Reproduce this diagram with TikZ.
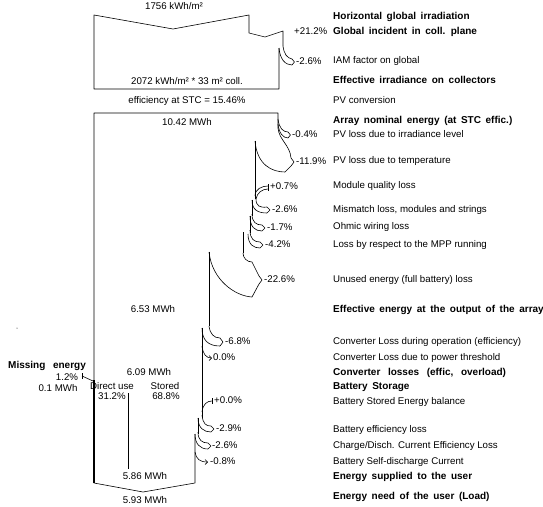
\documentclass[tikz,border=0pt]{standalone}
\usepackage{fontspec}
\setmainfont{Liberation Sans}
\usetikzlibrary{arrows.meta}
\newcommand\bsp{\spaceskip 4.6pt\relax}
\newcommand\nfs{\fontsize{9.7}{11}\selectfont}
\newcommand\bfs{\fontsize{10}{11}\selectfont\bfseries\bsp}
\begin{document}
\begin{tikzpicture}[x=1pt,y=-1pt,
  fl/.style={line width=0.6pt, line join=round},
  thk/.style={line width=1.5pt},
  tx/.style={font=\nfs, inner sep=0pt, text height=7pt, text depth=2pt},
  lw/.style={tx, anchor=west},
  bw/.style={lw, font=\bfs},
  bc/.style={tx, font=\bfs},
  arr/.style={fl, -{Straight Barb[length=2.5pt,width=5pt]}}]
\useasboundingbox (0,0) rectangle (543,506);

% ---------- top box (irradiation) ----------
\draw[fl] (279,48) -- (279,89) -- (94,89) -- (94,15) -- (173,29) -- (249,15) -- (249,33) -- (265,37) -- (283,31) -- (283,46);
% IAM loss
\draw[fl] (283,46) .. controls (284,54) and (287,58) .. (292,59);
\draw[fl] (279,48) .. controls (280,59) and (285,65) .. (292,65);
\draw[fl] (292,59) -- (294.5,62) -- (292,65);

% ---------- main flow outline ----------
\draw[fl] (278,128) -- (278,113) -- (94,113) -- (94,483) -- (143,492) -- (195,483) -- (195,434);
\draw[thk] (94,380) -- (94,483);

% -0.4%
\draw[fl] (278,119) .. controls (279,128) and (283,132) .. (288,132);
\draw[fl] (278,124) .. controls (279,133) and (283,138) .. (288,138);
\draw[fl] (288,132) -- (290.5,135) -- (288,138);
% -11.9%
\draw[fl] (278,128) .. controls (279,140) and (290,145) .. (291,158);
\draw[fl] (255,141) .. controls (257,165) and (272,172) .. (285,172) -- (291,166);
\draw[fl] (291,158) -- (294,162) -- (291,166);
\draw[fl] (255,141) -- (255,199);
% +0.7%
\draw[fl] (255,196) .. controls (255,189) and (262,186) .. (268,186);
\draw[fl] (256,199) .. controls (257,193) and (262,189) .. (268,189);
\draw[fl] (268,184) -- (268,191);
% -2.6% mismatch
\draw[fl] (256,199) .. controls (256,206) and (260,208) .. (267,207);
\draw[fl] (252,200) .. controls (252,210) and (258,213) .. (267,213);
\draw[fl] (267,207) -- (270,210) -- (267,213);
\draw[fl] (252,200) -- (252,216);
% -1.7%
\draw[fl] (252,214) .. controls (252,222) and (256,225) .. (262,225);
\draw[fl] (250,216) .. controls (250,227) and (255,231) .. (262,231);
\draw[fl] (262,225) -- (265,228) -- (262,231);
\draw[fl] (250,216) -- (250,233);
% -4.2%
\draw[fl] (250,230) .. controls (250,239) and (254,242) .. (260,242);
\draw[fl] (248,234) .. controls (248,245) and (254,248) .. (260,248);
\draw[fl] (260,242) -- (263,245) -- (260,248);
\draw[fl] (243,232) -- (243,253);
% -22.6%
\draw[fl] (243,253) .. controls (243,258) and (247,262) .. (252,262) -- (259,276);
\draw[fl] (209,252) .. controls (212,280) and (235,296) .. (252,297) -- (259,284);
\draw[fl] (259,276) -- (262,280) -- (259,284);
\draw[fl] (209,252) -- (209,326);
% -6.8%
\draw[fl] (209,326) .. controls (210,334) and (214,338) .. (220,338);
\draw[fl] (202,328) .. controls (202,340) and (208,346) .. (220,346);
\draw[fl] (220,338) -- (223,342) -- (220,346);
\draw[fl] (202,328) -- (202,418);
% 0.0%
\draw[arr] (202,346) .. controls (203,354) and (206,358) .. (212,358);
% +0.0%
\draw[fl] (202,412) .. controls (203,404) and (207,401) .. (212,401);
\draw[fl] (212,398) -- (212,404);
% -2.9%
\draw[fl] (202,415) .. controls (203,424) and (206,426) .. (211,426);
\draw[fl] (198,418) .. controls (198,428) and (204,432) .. (211,432);
\draw[fl] (211,426) -- (214,429) -- (211,432);
\draw[fl] (198,418) -- (198,434);
% -2.6%
\draw[fl] (198,432) .. controls (198,440) and (202,443) .. (208,443);
\draw[fl] (195,434) .. controls (195,444) and (200,449) .. (208,449);
\draw[fl] (208,443) -- (211,446) -- (208,449);
% -0.8%
\draw[arr] (195,452) .. controls (196,459) and (200,462) .. (208,462);

% missing energy
\draw[fl] (82,376) -- (93,381);
\draw[fl] (82,373) -- (82,379);
% direct use line
\draw[fl] (128,393) -- (128,469);
% stray dot
\fill (17,328) circle (0.5pt);

% ---------- left texts ----------
\node[tx] (t1756) at (174,7) {1756 kWh/m²};
\node[tx] (t2072) at (187,82) {2072 kWh/m² * 33 m² coll.};
\node[tx] (teff) at (187,101) {efficiency at STC = 15.46\%};
\node[tx] (t1042) at (187,123) {10.42 MWh};
\node[tx] (t653) at (153,310) {6.53 MWh};
\node[tx] (t609) at (149,373) {6.09 MWh};
\node[tx] (tdir) at (112,387) {Direct use};
\node[tx] (tdirp) at (112,397) {31.2\%};
\node[tx] (tsto) at (165,387) {Stored};
\node[tx] (tstop) at (166,397) {68.8\%};
\node[bc] (tmiss) at (47,366) {Missing\hspace{3pt} energy};
\node[tx] (tmissp) at (67,378) {1.2\%};
\node[tx] (tmissv) at (58,389) {0.1 MWh};
\node[tx] (t586) at (145,477) {5.86 MWh};
\node[tx] (t593) at (145,501) {5.93 MWh};

% ---------- values ----------
\node[lw] (v1) at (294,32) {+21.2\%};
\node[lw] (v2) at (296,62) {-2.6\%};
\node[lw] (v3) at (292,135) {-0.4\%};
\node[lw] (v4) at (296,162) {-11.9\%};
\node[lw] (v5) at (270,187) {+0.7\%};
\node[lw] (v6) at (272,210) {-2.6\%};
\node[lw] (v7) at (267,228) {-1.7\%};
\node[lw] (v8) at (265,245) {-4.2\%};
\node[lw] (v9) at (264,280) {-22.6\%};
\node[lw] (v10) at (225,342) {-6.8\%};
\node[lw] (v11) at (213,358) {0.0\%};
\node[lw] (v12) at (214,401) {+0.0\%};
\node[lw] (v13) at (216,429) {-2.9\%};
\node[lw] (v14) at (212,446) {-2.6\%};
\node[lw] (v15) at (210,462) {-0.8\%};

% ---------- right labels ----------
\node[bw] (r1) at (333,17) {Horizontal global irradiation};
\node[bw] (r2) at (333,32) {Global incident in coll. plane};
\node[lw] (r3) at (333,61) {IAM factor on global};
\node[bw] (r4) at (333,81) {Effective irradiance on collectors};
\node[lw] (r5) at (333,101) {PV conversion};
\node[bw] (r6) at (333,121) {Array nominal energy (at STC effic.)};
\node[lw] (r7) at (333,135) {PV loss due to irradiance level};
\node[lw] (r8) at (333,161) {PV loss due to temperature};
\node[lw] (r9) at (333,186) {Module quality loss};
\node[lw] (r10) at (333,210) {Mismatch loss, modules and strings};
\node[lw] (r11) at (333,227) {Ohmic wiring loss};
\node[lw] (r12) at (333,245) {Loss by respect to the MPP running};
\node[lw] (r13) at (333,280) {Unused energy (full battery) loss};
\node[bw] (r14) at (333,310) {Effective energy at the output of the array};
\node[lw] (r15) at (333,342) {Converter Loss during operation (efficiency)};
\node[lw] (r16) at (333,358) {Converter Loss due to power threshold};
\node[bw] (r17) at (333,373) {Converter\hspace{3pt} losses\hspace{3pt} (effic,\hspace{3pt} overload)};
\node[bw] (r18) at (333,387) {Battery Storage};
\node[lw] (r19) at (333,402) {Battery Stored Energy balance};
\node[lw] (r20) at (333,430) {Battery efficiency loss};
\node[lw] (r21) at (333,446) {Charge/Disch. Current Efficiency Loss};
\node[lw] (r22) at (333,462) {Battery Self-discharge Current};
\node[bw] (r23) at (333,477) {Energy supplied to the user};
\node[bw] (r24) at (333,497) {Energy need of the user (Load)};
\end{tikzpicture}
\end{document}
